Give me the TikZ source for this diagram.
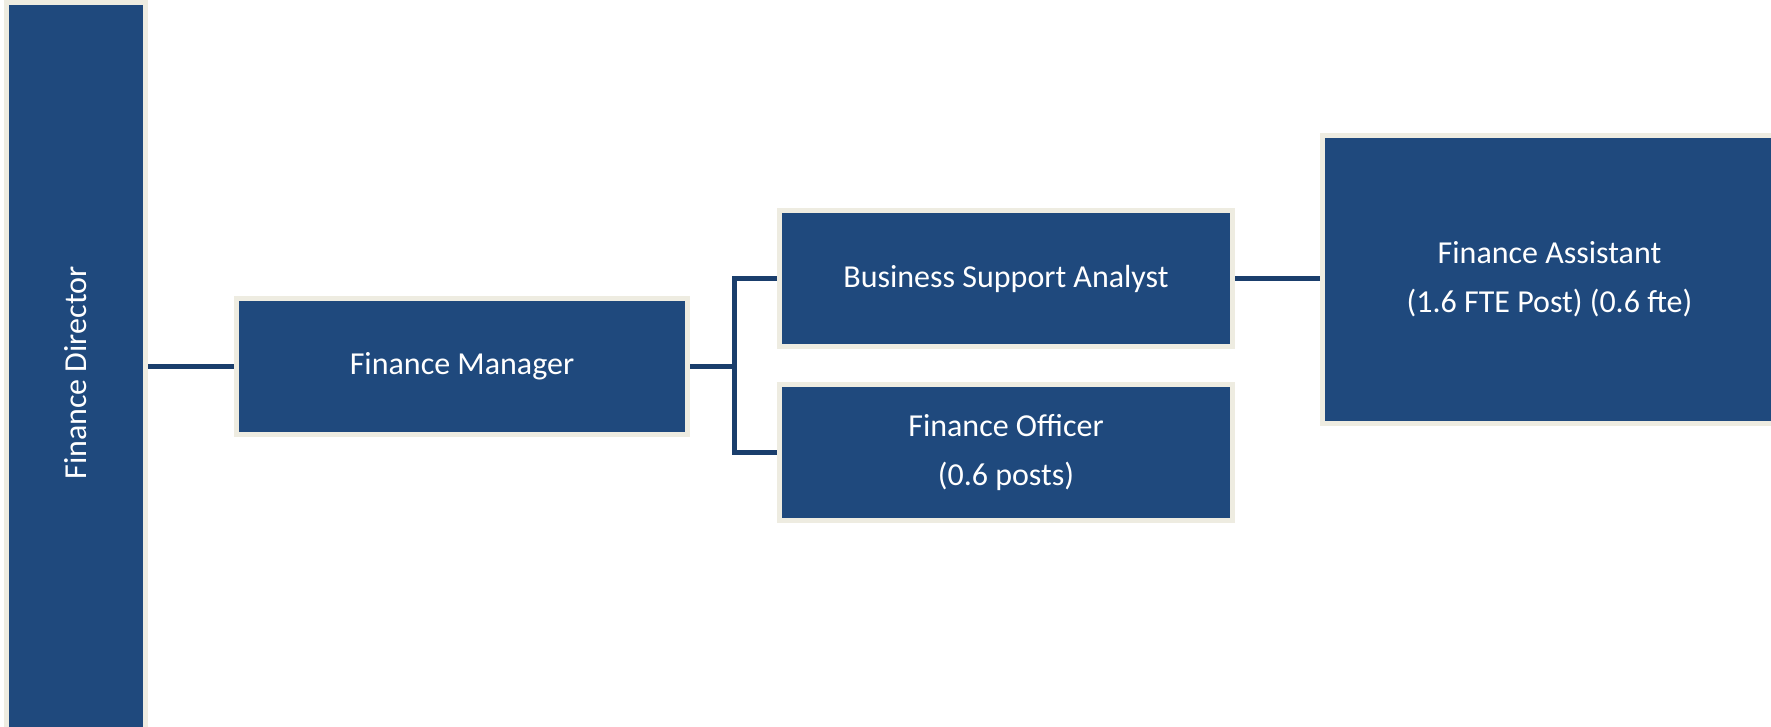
\documentclass[tikz,border=0pt]{standalone}
\usepackage{fontspec}
\setmainfont{Carlito}
\usetikzlibrary{backgrounds}

\definecolor{boxblue}{HTML}{1F497D}
\definecolor{boxrim}{HTML}{EEECE1}
\definecolor{linkblue}{HTML}{1A3E6C}

\begin{document}
\begin{tikzpicture}[x=1pt, y=-1pt,
    post/.style={draw=boxrim, line width=5pt, fill=boxblue, text=white,
        align=center, inner sep=0pt, font=\fontsize{32}{49}\selectfont},
    link/.style={draw=linkblue, line width=5pt}]
        % Sayfa sınırı
        \clip (0,0) rectangle (1771,727);

        % Kutular
        \node[post, rotate=90, minimum width=741pt, minimum height=139pt] (dir) at (76,373) {Finance Director};
        \node[post, minimum width=451pt, minimum height=136pt] (mgr) at (462,366.5) {Finance Manager};
        \node[post, minimum width=453pt, minimum height=136pt] (bsa) at (1006,278.5) {Business Support Analyst};
        \node[post, minimum width=453pt, minimum height=136pt] (fo) at (1006,452.5) {Finance Officer\\(0.6 posts)};
        \node[post, minimum width=455pt, minimum height=288pt] (fa) at (1549.5,279.5) {Finance Assistant\\(1.6 FTE Post) (0.6 fte)};

        % Bağlantılar
        \begin{scope}[on background layer]
            \coordinate (split) at (734,366.5);
            \draw[link] (mgr.west) -- (dir.east |- mgr.west);
            \draw[link] (mgr.east) -- (split);
            \draw[link] (bsa.west) -| (split) |- (fo.west);
            \draw[link] (bsa.east) -- (fa.west |- bsa.east);
        \end{scope}
    \end{tikzpicture}
\end{document}
